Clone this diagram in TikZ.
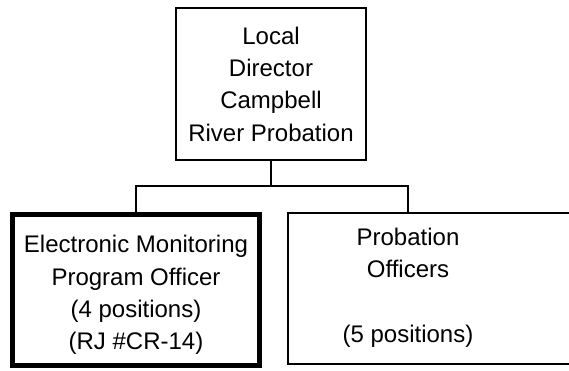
\documentclass[tikz,border=0pt]{standalone}
\usepackage{fontspec}
\setmainfont{Liberation Sans}
\usetikzlibrary{positioning}

\tikzset{
	post/.style = {draw, line width = 1.5pt, align = center, inner sep = 0pt, font = \fontsize{24}{32.3}\selectfont},
}

\begin{document}
\begin{tikzpicture}[x = 1pt, y = -1pt]
			\def\W{569}
			\def\H{370}

			\useasboundingbox (0,0) rectangle (\W,\H);

			\begin{scope}
				\node (director) [post, minimum width = 190, minimum height = 152] at (271,84) {Local\\Director\\Campbell\\River Probation};
				\node (monitor) [post, line width = 5pt, minimum width = 247, minimum height = 151.5, text height = 124.7pt] at (136,289.75) {Electronic Monitoring\\Program Officer\\(4 positions)\\(RJ \#CR-14)};
				\node (officers) [post, anchor = north west, minimum width = 300, minimum height = 151] at (287,212) {};
				\node (officerstext) [post, draw = none, anchor = base] at (408,342) {Probation\\Officers\\[32.3pt](5 positions)};
			\end{scope}

			\begin{scope}[line width = 1.5pt]
				\draw (director.south) -- ++(0,25) coordinate (split);
				\draw (monitor.north) |- (split) -| (officers.north -| officerstext);
			\end{scope}
		\end{tikzpicture}
\end{document}
